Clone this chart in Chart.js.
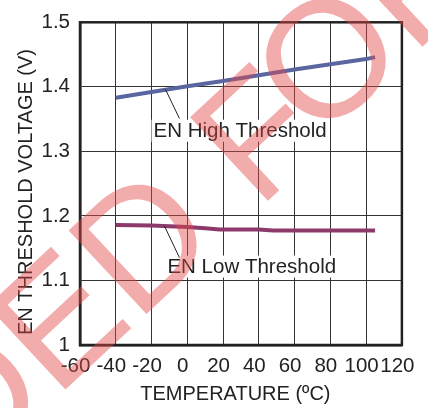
<!DOCTYPE html>
<html>
<head>
<meta charset="utf-8">
<script src="https://cdn.jsdelivr.net/npm/chart.js@4.4.1/dist/chart.umd.min.js"></script>
<style>
  html, body { margin: 0; padding: 0; background: #fff; }
  #wrap { width: 428px; height: 408px; }
</style>
</head>
<body>
<div id="wrap"><canvas id="thresholdChart" width="428" height="408"></canvas></div>
<script>
// readings taken off the plot
const highTemps = [-40, -20, 0, 20, 40, 60, 80, 100, 105];
const highVolts = [1.383, 1.392, 1.401, 1.409, 1.418, 1.427, 1.435, 1.443, 1.446];

const lowTemps = [-40, -20, 0, 10, 18, 40, 48, 60, 80, 105];
const lowVolts = [1.186, 1.185, 1.183, 1.181, 1.179, 1.179, 1.1775, 1.1775, 1.1775, 1.1775];

const xTickValues = [-60, -40, -20, 0, 20, 40, 60, 80, 100, 120];
const yTickLabels = ['1', '1.1', '1.2', '1.3', '1.4', '1.5'];

// callout labels (data units)
const highLabel = { text: 'EN High Threshold', x: -18.9, y: 1.332, from: [-12.2, 1.396], to: [-4.4, 1.351] };
const lowLabel = { text: 'EN Low Threshold', x: -11.1, y: 1.1215, from: [-12.8, 1.1845], to: [-4.4, 1.1354] };

const FONT = '"Liberation Sans", Arial, sans-serif';
const INK = '#222';

function toPoints(xs, ys) {
  return xs.map((x, i) => ({ x: x, y: ys[i] }));
}

// draws one piece of the stamp text so that the given letter sits at (ox, oy)
function stampPiece(ctx, text, lead, ox, oy) {
  ctx.save();
  ctx.translate(ox, oy);
  ctx.rotate(-43 * Math.PI / 180);
  const pre = ctx.measureText(lead).width;
  ctx.fillText(text, -pre, 0);
  ctx.restore();
}

const overlay = {
  id: 'overlay',
  afterDatasetsDraw(chart) {
    const ctx = chart.ctx;
    const xs = chart.scales.x, ys = chart.scales.y;
    const area = chart.chartArea;

    // heavy frame all round
    ctx.save();
    ctx.strokeStyle = INK;
    ctx.lineWidth = 2.5;
    ctx.strokeRect(area.left, area.top, area.right - area.left, area.bottom - area.top);

    // callouts
    ctx.font = '20.5px ' + FONT;
    ctx.textBaseline = 'middle';
    ctx.textAlign = 'left';
    [highLabel, lowLabel].forEach(lab => {
      const px = xs.getPixelForValue(lab.x);
      const py = ys.getPixelForValue(lab.y);
      const w = ctx.measureText(lab.text).width;
      ctx.fillStyle = '#fff';
      ctx.fillRect(px - 2, py - 11, w + 4, 22);
      ctx.fillStyle = INK;
      ctx.fillText(lab.text, px, py + 1);
      ctx.strokeStyle = INK;
      ctx.lineWidth = 1;
      ctx.beginPath();
      ctx.moveTo(xs.getPixelForValue(lab.from[0]), ys.getPixelForValue(lab.from[1]));
      ctx.lineTo(xs.getPixelForValue(lab.to[0]), ys.getPixelForValue(lab.to[1]));
      ctx.stroke();
    });
    ctx.restore();
  },
  afterDraw(chart) {
    // watermark stamped over the figure
    const ctx = chart.ctx;
    ctx.save();
    ctx.font = '166px ' + FONT;
    ctx.fillStyle = 'rgba(228, 70, 70, 0.45)';
    ctx.textBaseline = 'alphabetic';
    ctx.textAlign = 'left';
    stampPiece(ctx, 'NOT RECOMMENDED F', 'NOT RECOMMENDED ', 258, 210);
    stampPiece(ctx, 'OR NEW DESIGNS', '', 318, 144);
    ctx.restore();
  }
};

const ctx = document.getElementById('thresholdChart').getContext('2d');
const thresholdChart = new Chart(ctx, {
  type: 'line',
  data: {
    datasets: [{
      label: 'EN High Threshold',
      data: toPoints(highTemps, highVolts),
      borderColor: '#5b659f',
      borderWidth: 4,
      pointRadius: 0,
      tension: 0
    }, {
      label: 'EN Low Threshold',
      data: toPoints(lowTemps, lowVolts),
      borderColor: '#8b3a6b',
      borderWidth: 4,
      pointRadius: 0,
      tension: 0
    }]
  },
  options: {
    responsive: false,
    animation: false,
    layout: { padding: { top: 20, right: 24, left: 0, bottom: 0 } },
    plugins: {
      legend: { display: false },
      tooltip: { enabled: false }
    },
    scales: {
      x: {
        type: 'linear',
        min: -60,
        max: 120,
        afterBuildTicks: s => { s.ticks = xTickValues.map(v => ({ value: v })); },
        afterFit: s => { s.height = 63; },
        ticks: {
          color: INK,
          font: { family: FONT, size: 20.5 },
          padding: 9,
          labelOffset: -4.5,
          maxRotation: 0,
          autoSkip: false
        },
        grid: { color: '#333', lineWidth: 1, drawTicks: false },
        border: { color: INK, width: 2.5 },
        title: {
          display: true,
          text: 'TEMPERATURE (ºC)  ',
          color: INK,
          font: { family: FONT, size: 20 },
          padding: { top: 0, bottom: 2 }
        }
      },
      y: {
        min: 1,
        max: 1.5,
        afterBuildTicks: s => { s.ticks = yTickLabels.map(t => ({ value: parseFloat(t) })); },
        afterFit: s => { s.width = 80; },
        ticks: {
          color: INK,
          font: { family: FONT, size: 20.5 },
          padding: 10,
          callback: (v, i) => yTickLabels[i]
        },
        grid: { color: '#333', lineWidth: 1, drawTicks: false },
        border: { color: INK, width: 2.5 },
        title: {
          display: true,
          text: 'EN THRESHOLD VOLTAGE (V)   ',
          color: INK,
          font: { family: FONT, size: 20 },
          padding: { top: 14, bottom: 0 }
        }
      }
    }
  },
  plugins: [overlay]
});
</script>
</body>
</html>
